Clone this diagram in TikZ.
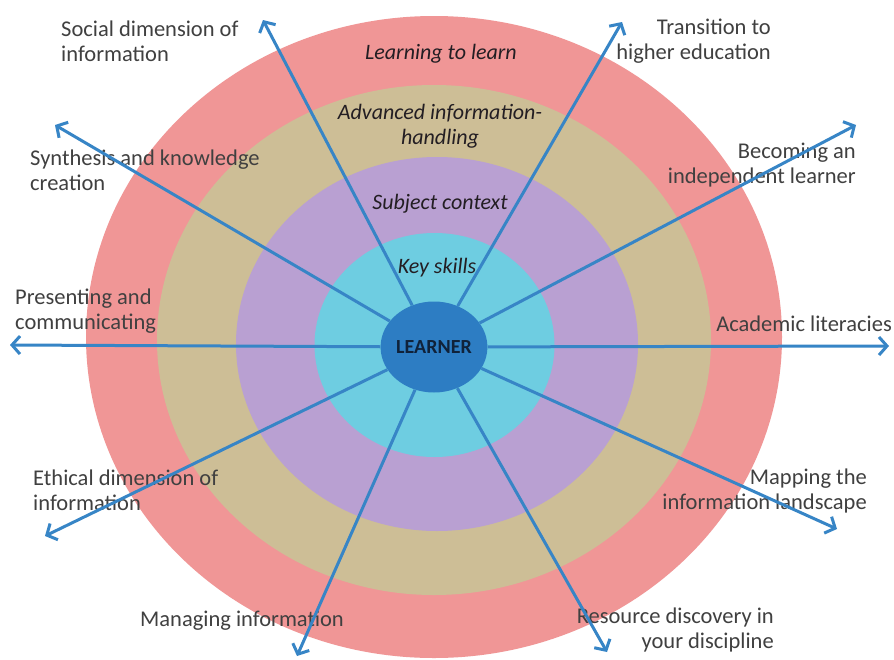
\documentclass[tikz,border=0pt]{standalone}
\usepackage{fontspec}
\setmainfont{Carlito}
\usetikzlibrary{arrows.meta,shapes.geometric}
\definecolor{ringred}{RGB}{240,150,150}
\definecolor{ringtan}{RGB}{205,190,150}
\definecolor{ringpurple}{RGB}{185,160,210}
\definecolor{ringcyan}{RGB}{110,205,225}
\definecolor{learnerblue}{RGB}{45,125,195}
\definecolor{arrowblue}{RGB}{55,133,198}
\definecolor{labelgray}{RGB}{64,64,64}
\definecolor{ringtext}{RGB}{35,30,35}
\definecolor{navy}{RGB}{16,34,58}
\begin{document}
\begin{tikzpicture}[x=1pt,y=-1pt,
  outlabel/.style={inner sep=0pt,text=labelgray,font=\fontsize{22.5}{25}\selectfont},
  ringlabel/.style={inner sep=0pt,text=ringtext,align=center,font=\fontsize{22}{25}\selectfont\itshape},
  spoke/.style={draw=arrowblue,line width=3pt,-{Straight Barb[length=8pt,width=18pt,line width=3pt]}}
]
\useasboundingbox (0,0) rectangle (894,659);
\fill[white] (0,0) rectangle (894,659);
% rings
\fill[ringred] (434,337) ellipse [x radius=348, y radius=321];
\fill[ringtan] (434,340) ellipse [x radius=277, y radius=255];
\fill[ringpurple] (437,344) ellipse [x radius=201, y radius=187];
\fill[ringcyan] (434.5,345) ellipse [x radius=120, y radius=112];
% ring labels
\node[ringlabel] (l1) at (441,54) {Learning to learn};
\node[ringlabel] (l2) at (440,126.5) {Advanced information-\\handling};
\node[ringlabel] (l3) at (440,204) {Subject context};
\node[ringlabel] (l4) at (437,268) {Key skills};
% outer labels
\node[outlabel,anchor=west,align=left] (tsocial) at (61,41) {Social dimension of\\information};
\node[outlabel,anchor=west,align=left] (tsynth) at (30,170) {Synthesis and knowledge\\creation};
\node[outlabel,anchor=west,align=left] (tpres) at (15,311.5) {Presenting and\\communicating};
\node[outlabel,anchor=west,align=left] (teth) at (33,490.5) {Ethical dimension of\\information};
\node[outlabel,anchor=west] (tman) at (140,620.5) {Managing information};
\node[outlabel,anchor=east,align=right] (tres) at (774,629.5) {Resource discovery in\\your discipline};
\node[outlabel,anchor=east,align=right] (tmap) at (867,490.5) {Mapping the\\information landscape};
\node[outlabel,anchor=east] (tacad) at (892,323.5) {Academic literacies};
\node[outlabel,anchor=east,align=right] (tbecome) at (856,165) {Becoming an\\independent learner};
\node[outlabel,anchor=east,align=right] (ttrans) at (771,41.5) {Transition to\\higher education};
% learner
\node[ellipse,fill=learnerblue,minimum width=106pt,minimum height=91pt,inner sep=0pt,
      text=navy,font=\fontsize{20}{22}\selectfont\bfseries] (learner) at (434,347) {LEARNER};
% arrow tips
\coordinate (psocial) at (263,20);
\coordinate (psynth) at (55,125);
\coordinate (ppres) at (10,345);
\coordinate (peth) at (45,536);
\coordinate (pman) at (297,656);
\coordinate (pres) at (607,652);
\coordinate (pmap) at (837,529);
\coordinate (pacad) at (889,346);
\coordinate (pbecome) at (856,125);
\coordinate (ptrans) at (622,22);
\foreach \p in {psocial,psynth,ppres,peth,pman,pres,pmap,pacad,pbecome,ptrans}
  \draw[spoke] (learner) -- (\p);
\end{tikzpicture}
\end{document}
